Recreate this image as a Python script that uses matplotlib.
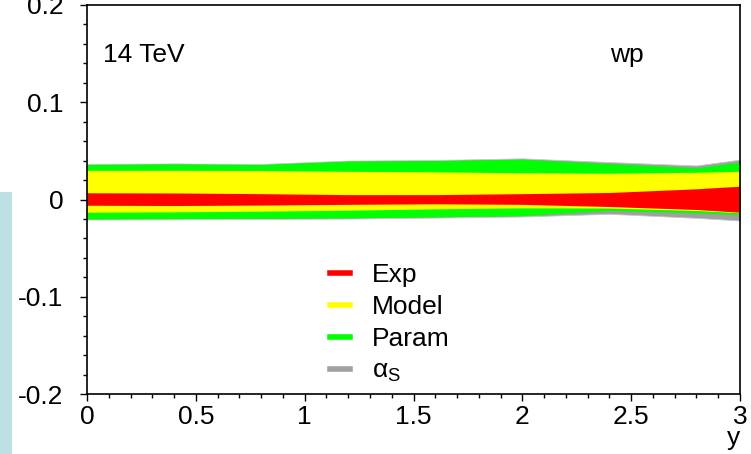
import matplotlib
matplotlib.use("Agg")
import matplotlib.pyplot as plt
from matplotlib.lines import Line2D
from matplotlib.patches import Rectangle
from matplotlib.ticker import MultipleLocator, FixedLocator

plt.rcParams['font.family'] = ['Liberation Sans', 'DejaVu Sans']
plt.rcParams['mathtext.fontset'] = 'custom'
plt.rcParams['mathtext.rm'] = 'Liberation Sans'
plt.rcParams['mathtext.it'] = 'Liberation Sans:italic'

# ---- data ----
y_nodes = [0.0, 0.4, 0.8, 1.2, 1.6, 2.0, 2.4, 2.8, 3.0]
exp_up   = [0.0069, 0.0067, 0.0060, 0.0050, 0.0050, 0.0060, 0.0072, 0.0110, 0.0137]
exp_dn   = [-0.0059, -0.0062, -0.0057, -0.0050, -0.0044, -0.0050, -0.0072, -0.0103, -0.0131]
model_up = [0.0300, 0.0300, 0.0298, 0.0290, 0.0284, 0.0275, 0.0270, 0.0280, 0.0290]
model_dn = [-0.0131, -0.0127, -0.0120, -0.0110, -0.0096, -0.0086, -0.0088, -0.0113, -0.0137]
param_up = [0.0360, 0.0366, 0.0360, 0.0395, 0.0400, 0.0415, 0.0370, 0.0327, 0.0385]
param_dn = [-0.0199, -0.0196, -0.0193, -0.0189, -0.0178, -0.0165, -0.0113, -0.0137, -0.0155]
as_up    = [0.0366, 0.0371, 0.0365, 0.0400, 0.0406, 0.0423, 0.0385, 0.0350, 0.0410]
as_dn    = [-0.0206, -0.0203, -0.0200, -0.0196, -0.0186, -0.0175, -0.0147, -0.0189, -0.0216]

labels = ['Exp', 'Model', 'Param', r'$\mathrm{\alpha}_{\mathrm{S}}$']
colors = ['#ff0000', '#ffff00', '#00ff00', '#a0a0a0']

x_ticks = [0, 0.5, 1, 1.5, 2, 2.5, 3]
x_ticklabels = ['0', '0.5', '1', '1.5', '2', '2.5', '3']
y_ticks = [-0.2, -0.1, 0.0, 0.1, 0.2]
y_ticklabels = ['-0.2', '-0.1', '0', '0.1', '0.2']

FS = 19

fig = plt.figure(figsize=(7.51, 4.54), dpi=100)
fig.patches.append(Rectangle((0, 0), 12 / 751, (454 - 192) / 454,
                             transform=fig.transFigure, facecolor='#bde0e3',
                             edgecolor='none', zorder=0))
ax = fig.add_axes([87 / 751, 1 - 394 / 454, (740 - 87) / 751, (394 - 5) / 454])

ax.fill_between(y_nodes, as_dn, as_up, color=colors[3], lw=0.6, edgecolor='#c8c8c8')
ax.fill_between(y_nodes, param_dn, param_up, color=colors[2], lw=0)
ax.fill_between(y_nodes, model_dn, model_up, color=colors[1], lw=0)
ax.fill_between(y_nodes, exp_dn, exp_up, color=colors[0], lw=0)

ax.set_xlim(0, 3)
ax.set_ylim(-0.2, 0.2)
ax.xaxis.set_major_locator(FixedLocator(x_ticks))
ax.set_xticklabels(x_ticklabels)
ax.xaxis.set_minor_locator(MultipleLocator(0.1))
ax.yaxis.set_major_locator(FixedLocator(y_ticks))
ax.set_yticklabels(y_ticklabels)
ax.yaxis.set_minor_locator(MultipleLocator(0.02))

ax.tick_params(axis='both', which='major', direction='out', length=5, width=1,
               labelsize=FS, top=False, right=False)
ax.tick_params(axis='both', which='minor', direction='out', length=2.8, width=1,
               top=False, right=False)
ax.tick_params(axis='y', which='major', pad=12)
ax.tick_params(axis='x', which='major', pad=3)
for s in ax.spines.values():
    s.set_linewidth(1.2)

ax.set_xlabel('y', fontsize=FS, loc='right', labelpad=-2)

ax.text(16 / 653, 1 - 50 / 389, '14 TeV', transform=ax.transAxes, fontsize=FS,
        va='center', ha='left')
ax.text(523 / 653, 1 - 50 / 389, 'wp', transform=ax.transAxes, fontsize=FS,
        va='center', ha='left')

handles = [Line2D([], [], color=c, lw=4) for c in colors]
leg = ax.legend(handles, labels, loc='upper left',
                bbox_to_anchor=(243 / 653, 1 - 258 / 389),
                frameon=False, fontsize=FS, handlelength=0.75,
                handletextpad=0.85, labelspacing=0.3, borderpad=0, borderaxespad=0)

fig.savefig('out.png', dpi=100)
